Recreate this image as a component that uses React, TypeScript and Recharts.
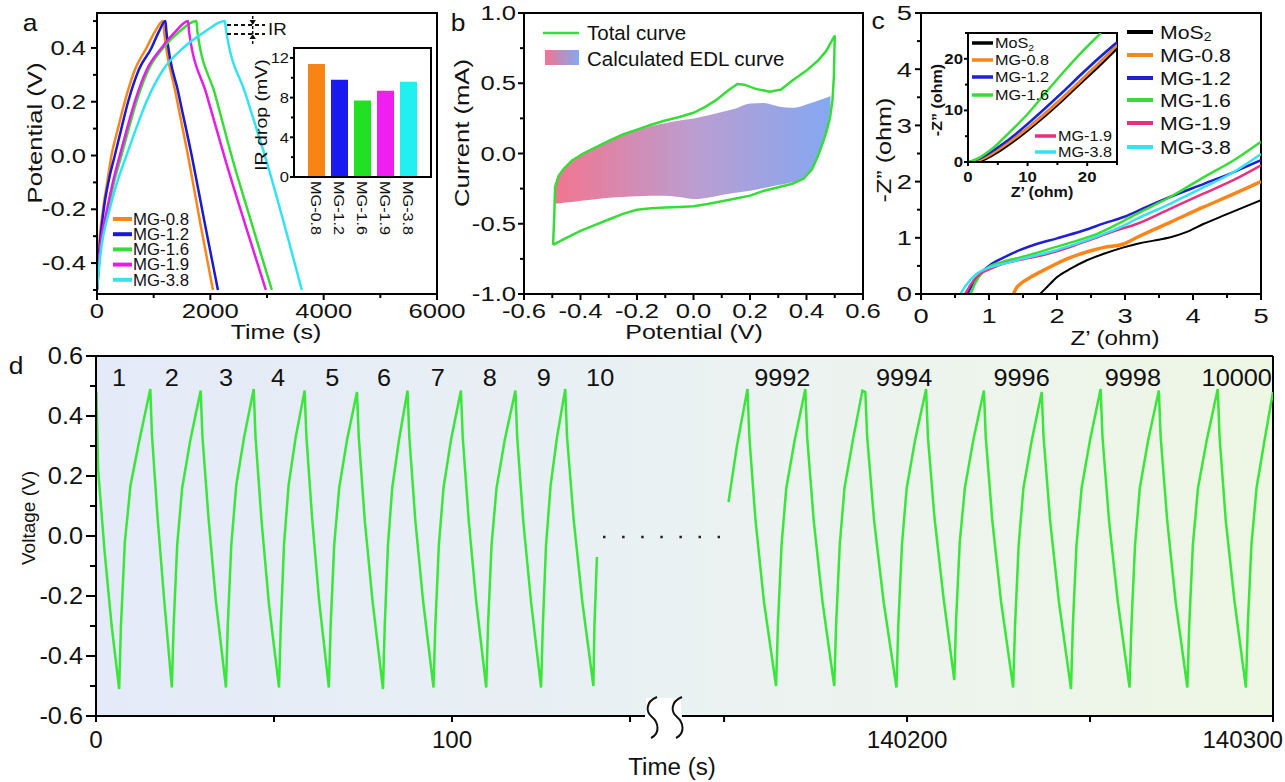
import React from "react";
import {
  LineChart,
  Line,
  XAxis,
  YAxis,
  BarChart,
  Bar,
  Cell,
  ComposedChart,
  Area,
  ReferenceArea,
  ReferenceLine,
} from "recharts";

const FONT = '"Liberation Sans", Arial, Helvetica, sans-serif';
const AX = { stroke: "#000", strokeWidth: 2 };

type Pt = [number, number];

// ---------- panel a: GCD curves ----------
const gcdNames = ["MG-0.8", "MG-1.2", "MG-1.6", "MG-1.9", "MG-3.8"];
const gcdColors = ["#f7861c", "#1a1ad0", "#38dc38", "#e41ee4", "#36e2f2"];
const gcd08: Pt[] = [
  [0, -0.5], [30, -0.36], [107, -0.2], [180, -0.1], [255, 0], [370, 0.1], [490, 0.2],
  [670, 0.32], [872, 0.4], [1020, 0.46], [1166, 0.5],
  [1185, 0.46], [1380, 0.24], [1606, 0], [1830, -0.26], [2046, -0.5],
];
const gcd12: Pt[] = [
  [0, -0.5], [35, -0.37], [119, -0.2], [210, -0.09], [314, 0], [430, 0.1], [549, 0.2],
  [740, 0.32], [961, 0.4], [1090, 0.46], [1208, 0.5],
  [1225, 0.46], [1440, 0.23], [1671, 0], [1900, -0.25], [2134, -0.5],
];
const gcd16: Pt[] = [
  [0, -0.5], [55, -0.36], [196, -0.2], [310, -0.09], [431, 0], [560, 0.1], [696, 0.2],
  [910, 0.32], [1167, 0.4], [1450, 0.46], [1755, 0.5],
  [1772, 0.46], [2080, 0.23], [2400, -0.02], [2740, -0.26], [3086, -0.5],
];
const gcd19: Pt[] = [
  [0, -0.5], [50, -0.36], [178, -0.2], [290, -0.09], [402, 0], [530, 0.1], [667, 0.2],
  [880, 0.32], [1138, 0.4], [1380, 0.46], [1608, 0.5],
  [1625, 0.46], [1930, 0.23], [2270, -0.02], [2620, -0.26], [2980, -0.5],
];
const gcd38: Pt[] = [
  [0, -0.5], [60, -0.37], [224, -0.2], [370, -0.09], [520, 0], [690, 0.1], [872, 0.2],
  [1170, 0.32], [1520, 0.4], [1900, 0.46], [2256, 0.5],
  [2275, 0.47], [2620, 0.23], [2990, -0.02], [3310, -0.26], [3615, -0.5],
];
const gcdCurves = [gcd08, gcd12, gcd16, gcd19, gcd38];

// inset a: IR drop bars
const irDrop = [11.4, 9.8, 7.7, 8.7, 9.6];
const irColors = ["#f88414", "#1a1af0", "#22e022", "#f01ef0", "#22f0f0"];

// ---------- panel b: CV ----------
const cvTotal: Pt[] = [
  [-0.497, -0.65], [-0.493, -0.45], [-0.49, -0.24], [-0.478, -0.16], [-0.46, -0.11],
  [-0.43, -0.05], [-0.39, 0.0], [-0.35, 0.04], [-0.3, 0.09], [-0.25, 0.135], [-0.2, 0.17],
  [-0.15, 0.205], [-0.1, 0.235], [-0.05, 0.26], [0.0, 0.29], [0.04, 0.33], [0.08, 0.38],
  [0.12, 0.445], [0.155, 0.495], [0.18, 0.49], [0.22, 0.46], [0.27, 0.44], [0.31, 0.455],
  [0.35, 0.52], [0.4, 0.59], [0.44, 0.66], [0.47, 0.73], [0.5, 0.84],
  [0.497, 0.55], [0.492, 0.38], [0.483, 0.25], [0.47, 0.15], [0.455, 0.06], [0.44, -0.02],
  [0.42, -0.11], [0.39, -0.18], [0.35, -0.215], [0.3, -0.24], [0.25, -0.265], [0.2, -0.3],
  [0.15, -0.32], [0.1, -0.34], [0.05, -0.36], [0.0, -0.375], [-0.05, -0.38], [-0.1, -0.385],
  [-0.15, -0.39], [-0.2, -0.4], [-0.25, -0.43], [-0.3, -0.47], [-0.35, -0.51], [-0.4, -0.55],
  [-0.45, -0.6], [-0.497, -0.65],
];
const edlX = [
  -0.49, -0.48, -0.46, -0.43, -0.39, -0.35, -0.3, -0.25, -0.2, -0.15, -0.1, -0.05, 0.0,
  0.05, 0.1, 0.15, 0.2, 0.25, 0.3, 0.35, 0.38, 0.41, 0.44, 0.46, 0.475, 0.485,
];
const edlLow = [
  -0.355, -0.355, -0.35, -0.345, -0.335, -0.325, -0.315, -0.31, -0.305, -0.3, -0.3, -0.31,
  -0.325, -0.315, -0.295, -0.28, -0.265, -0.245, -0.225, -0.205, -0.185, -0.14, -0.04,
  0.08, 0.2, 0.32,
];
const edlHigh = [
  -0.25, -0.17, -0.115, -0.055, -0.005, 0.035, 0.085, 0.13, 0.165, 0.195, 0.215, 0.235,
  0.25, 0.27, 0.295, 0.32, 0.355, 0.36, 0.335, 0.325, 0.335, 0.355, 0.375, 0.39, 0.4, 0.41,
];

// ---------- panel c: EIS ----------
const eisNames = ["MoS2", "MG-0.8", "MG-1.2", "MG-1.6", "MG-1.9", "MG-3.8"];
const eisColors = ["#000000", "#f7861c", "#2020d0", "#38dc38", "#e6317e", "#36e2f2"];
const eisWidths = [2, 3.5, 2.5, 2.5, 2.5, 2.5];
const eisMoS2: Pt[] = [
  [1.75, 0], [1.85, 0.12], [2.0, 0.3], [2.2, 0.45], [2.44, 0.6], [2.7, 0.72], [2.98, 0.83],
  [3.2, 0.9], [3.42, 0.95], [3.67, 1.01], [3.9, 1.1], [4.16, 1.25], [4.5, 1.42], [5, 1.67],
];
const eis08: Pt[] = [
  [1.36, 0], [1.4, 0.1], [1.46, 0.18], [1.6, 0.29], [1.8, 0.42], [2.2, 0.65], [2.5, 0.77],
  [2.69, 0.83], [2.98, 0.89], [3.18, 1.01], [3.67, 1.28], [4.16, 1.55], [4.6, 1.78], [5, 2.0],
];
const eis12: Pt[] = [
  [0.68, 0], [0.75, 0.15], [0.87, 0.36], [1.0, 0.5], [1.22, 0.65], [1.45, 0.78], [1.7, 0.89],
  [2.0, 0.99], [2.39, 1.13], [2.7, 1.26], [2.98, 1.37], [3.3, 1.54], [3.67, 1.73], [4.16, 1.96],
  [4.6, 2.17], [5, 2.38],
];
const eis16: Pt[] = [
  [0.73, 0], [0.8, 0.2], [0.9, 0.38], [0.97, 0.46], [1.2, 0.57], [1.46, 0.65], [1.7, 0.73],
  [1.96, 0.83], [2.3, 0.95], [2.59, 1.07], [2.9, 1.25], [3.18, 1.43], [3.67, 1.73], [4.16, 2.08],
  [4.6, 2.38], [5, 2.71],
];
const eis19: Pt[] = [
  [0.65, 0], [0.72, 0.15], [0.87, 0.36], [1.0, 0.44], [1.22, 0.54], [1.5, 0.62], [1.85, 0.71],
  [2.2, 0.84], [2.59, 1.01], [2.9, 1.14], [3.18, 1.25], [3.67, 1.52], [4.16, 1.79], [4.6, 2.03],
  [5, 2.29],
];
const eis38: Pt[] = [
  [0.58, 0], [0.66, 0.15], [0.82, 0.36], [1.0, 0.47], [1.22, 0.54], [1.5, 0.63], [1.96, 0.77],
  [2.3, 0.9], [2.69, 1.07], [2.95, 1.2], [3.18, 1.34], [3.67, 1.61], [4.16, 1.9], [4.6, 2.17],
  [5, 2.49],
];
const eisCurves = [eisMoS2, eis08, eis12, eis16, eis19, eis38];

// inset c: wide range
const wideMoS2: Pt[] = [[1.6, 0], [3, 0.6], [5, 1.9], [8, 4.3], [10, 6.1], [13, 9.0], [16, 12.1], [19, 15.4], [22, 18.6], [25, 22.0]];
const wide08: Pt[] = [[1.0, 0], [3, 0.9], [5, 2.3], [8, 4.7], [10, 6.5], [13, 9.4], [16, 12.5], [19, 15.8], [22, 19.1], [25, 22.6]];
const wide12: Pt[] = [[0.3, 0], [2, 0.7], [5, 2.8], [8, 5.4], [10, 7.4], [13, 10.5], [16, 13.7], [19, 17.0], [22, 20.2], [25, 23.2]];
const wide16: Pt[] = [[0.3, 0], [2, 0.9], [4, 2.5], [7, 5.8], [10, 9.3], [13, 13.4], [16, 17.4], [19, 21.2], [22.3, 25]];
const wide19: Pt[] = [[1.0, 0], [3, 0.9], [5, 2.4], [8, 4.8], [10, 6.6], [13, 9.5], [16, 12.6], [19, 15.9], [22, 19.2], [25, 22.7]];
const wide38: Pt[] = [[0.3, 0], [2, 0.7], [5, 2.8], [8, 5.4], [10, 7.3], [13, 10.4], [16, 13.6], [19, 16.9], [22, 20.1], [25, 23.1]];
// draw order: hidden ones first
const wideCurves = [wide19, wide38, wideMoS2, wide08, wide12, wide16];
const wideColors = ["#e6317e", "#36e2f2", "#000000", "#f7861c", "#2020d0", "#38dc38"];
const wideNames = ["MG-1.9", "MG-3.8", "MoS2", "MG-0.8", "MG-1.2", "MG-1.6"];

// ---------- panel d: cycling ----------
const cycEarly: Pt[] = [
  [0.1, 0.48], [0.6, 0.22], [2.4, -0.05], [4.4, -0.3], [6.5, -0.51],
  [7.0, -0.3], [8.1, -0.02], [9.7, 0.17], [12.2, 0.32], [15.25, 0.49],
  [15.7, 0.34], [17.3, 0.06], [19.2, -0.22], [21.3, -0.505],
  [21.8, -0.3], [22.8, -0.03], [24.2, 0.16], [26.5, 0.32], [29.4, 0.485],
  [29.9, 0.33], [31.6, 0.06], [33.7, -0.22], [36.5, -0.505],
  [37.0, -0.3], [38.0, -0.03], [39.4, 0.17], [41.6, 0.33], [44.3, 0.49],
  [44.8, 0.33], [46.5, 0.05], [48.6, -0.23], [51.4, -0.505],
  [51.9, -0.3], [52.8, -0.03], [54.1, 0.17], [56.1, 0.33], [58.6, 0.485],
  [59.1, 0.33], [60.7, 0.06], [62.7, -0.22], [65.4, -0.505],
  [65.9, -0.3], [66.9, -0.03], [68.3, 0.16], [70.5, 0.32], [73.3, 0.48],
  [73.8, 0.33], [75.5, 0.05], [77.7, -0.22], [80.6, -0.51],
  [81.1, -0.3], [82.0, -0.03], [83.2, 0.16], [85.1, 0.32], [87.5, 0.485],
  [88.0, 0.33], [89.7, 0.05], [91.9, -0.22], [94.8, -0.505],
  [95.3, -0.3], [96.3, -0.03], [97.6, 0.16], [99.7, 0.32], [102.5, 0.485],
  [103.0, 0.33], [104.7, 0.05], [106.8, -0.22], [109.6, -0.505],
  [110.1, -0.3], [111.1, -0.03], [112.5, 0.16], [114.8, 0.32], [117.8, 0.485],
  [118.3, 0.33], [120.0, 0.05], [122.2, -0.22], [125.0, -0.505],
  [125.5, -0.3], [126.4, -0.03], [127.7, 0.17], [129.5, 0.33], [131.8, 0.49],
  [132.3, 0.33], [134.2, 0.05], [136.6, -0.22], [139.7, -0.5],
  [140.0, -0.3], [140.7, -0.07],
];
const cycLate: Pt[] = [
  [140151.2, 0.113], [140153.5, 0.3], [140156.4, 0.49],
  [140156.9, 0.33], [140158.6, 0.05], [140160.9, -0.22], [140164.2, -0.5],
  [140164.7, -0.3], [140165.7, -0.03], [140167.0, 0.16], [140169.3, 0.32], [140172.2, 0.49],
  [140172.7, 0.33], [140174.5, 0.05], [140176.9, -0.22], [140180.1, -0.5],
  [140180.6, -0.3], [140181.6, -0.03], [140182.9, 0.16], [140185.2, 0.32], [140187.8, 0.485], [140188.6, 0.48],
  [140189.1, 0.33], [140191.0, 0.05], [140193.6, -0.22], [140197.1, -0.505],
  [140197.6, -0.3], [140198.6, -0.03], [140199.9, 0.16], [140202.2, 0.32], [140205.2, 0.49],
  [140205.7, 0.33], [140207.5, 0.06], [140209.9, -0.2], [140212.9, -0.48],
  [140213.4, -0.28], [140214.4, -0.02], [140215.8, 0.16], [140218.1, 0.32], [140221.0, 0.485],
  [140221.5, 0.33], [140223.3, 0.05], [140225.7, -0.22], [140229.0, -0.505],
  [140229.5, -0.3], [140230.5, -0.03], [140231.8, 0.16], [140234.1, 0.32], [140236.8, 0.48],
  [140237.3, 0.33], [140239.1, 0.05], [140241.5, -0.22], [140244.8, -0.51],
  [140245.3, -0.3], [140246.3, -0.03], [140247.7, 0.16], [140250.0, 0.32], [140252.9, 0.49],
  [140253.4, 0.33], [140255.2, 0.05], [140257.6, -0.22], [140260.8, -0.505],
  [140261.3, -0.3], [140262.3, -0.03], [140263.6, 0.16], [140265.9, 0.32], [140268.8, 0.485],
  [140269.3, 0.33], [140271.1, 0.05], [140273.4, -0.22], [140276.6, -0.505],
  [140277.1, -0.3], [140278.1, -0.03], [140279.5, 0.16], [140281.9, 0.32], [140284.9, 0.49],
  [140285.4, 0.33], [140287.1, 0.05], [140289.5, -0.22], [140292.6, -0.505],
  [140293.1, -0.3], [140294.1, -0.03], [140295.5, 0.16], [140297.7, 0.32], [140300, 0.48],
];
const earlyLabels = ["1", "2", "3", "4", "5", "6", "7", "8", "9", "10"];
const earlyLabelT = [6.5, 21.3, 36.5, 51.1, 66.4, 80.9, 96, 110.6, 125.8, 141.6];
const lateLabels = ["9992", "9994", "9996", "9998", "10000"];
const lateLabelT = [140165.9, 140199.2, 140231.3, 140261.7, 140290.1];
const labelV = 0.527;

// ---------- helpers ----------
const rows = (pts: Pt[], kx: string, ky: string) => pts.map(([a, b]) => ({ [kx]: a, [ky]: b }));

type TxtProps = {
  x: number; y: number; size?: number; anchor?: "start" | "middle" | "end";
  rot?: number; sx?: number; bold?: boolean; children: React.ReactNode;
};
function Txt({ x, y, size = 20, anchor = "middle", rot = 0, sx = 1, bold = false, children }: TxtProps) {
  return (
    <text
      transform={`translate(${x} ${y}) rotate(${rot}) scale(${sx} 1)`}
      fontFamily={FONT}
      fontSize={size}
      fontWeight={bold ? 700 : 400}
      textAnchor={anchor}
      dominantBaseline="central"
      fill="#111"
    >
      {children}
    </text>
  );
}

type TickOpt = {
  majors: number[]; len: number; minor: number; gap: number; size: number; sx: number;
  fmt: (v: number) => string; bold?: boolean; endAt?: number;
};
const isMajor = (o: TickOpt, v: number) => o.majors.some((m) => Math.abs(m - v) < 1e-9);

const leftTick = (o: TickOpt) => (p: any) => {
  const v = Number(p.payload.value);
  const mj = isMajor(o, v);
  return (
    <g key={`yt-${p.index}`}>
      <line x1={p.x - (mj ? o.len : o.minor)} x2={p.x} y1={p.y} y2={p.y} stroke="#000" strokeWidth={2} />
      {mj && (
        <Txt x={p.x - o.len - o.gap} y={p.y} size={o.size} sx={o.sx} anchor="end" bold={o.bold}>
          {o.fmt(v)}
        </Txt>
      )}
    </g>
  );
};

const bottomTick = (o: TickOpt) => (p: any) => {
  const v = Number(p.payload.value);
  const mj = isMajor(o, v);
  const last = o.endAt !== undefined && v === o.majors[o.majors.length - 1];
  return (
    <g key={`xt-${p.index}`}>
      <line x1={p.x} x2={p.x} y1={p.y} y2={p.y + (mj ? o.len : o.minor)} stroke="#000" strokeWidth={2} />
      {mj && (
        <Txt
          x={last ? (o.endAt as number) : p.x}
          y={p.y + o.len + o.gap}
          size={o.size}
          sx={o.sx}
          anchor={last ? "end" : "middle"}
          bold={o.bold}
        >
          {o.fmt(v)}
        </Txt>
      )}
    </g>
  );
};

const f1 = (v: number) => v.toFixed(1);
const f0 = (v: number) => String(v);

// ---------- panels ----------
function PanelA() {
  return (
    <div style={{ position: "absolute", left: 27, top: -3 }}>
      <LineChart width={70 + 340 + 40} height={16 + 281 + 40} margin={{ top: 16, right: 40, bottom: 0, left: 0 }}>
        <XAxis
          type="number" dataKey="t" domain={[0, 6000]} allowDataOverflow
          ticks={[0, 1000, 2000, 3000, 4000, 5000, 6000]} interval={0} height={40}
          tickSize={0} tickMargin={0} tickLine={false} axisLine={AX}
          tick={bottomTick({ majors: [0, 2000, 4000, 6000], len: 6, minor: 4, gap: 11, size: 20.5, sx: 1.25, fmt: f0 })}
        />
        <YAxis
          type="number" domain={[-0.515, 0.53]} allowDataOverflow
          ticks={[-0.5, -0.4, -0.3, -0.2, -0.1, 0, 0.1, 0.2, 0.3, 0.4, 0.5]} interval={0} width={70}
          tickSize={0} tickMargin={0} tickLine={false} axisLine={AX}
          tick={leftTick({ majors: [-0.4, -0.2, 0, 0.2, 0.4], len: 6, minor: 4, gap: 5, size: 20.5, sx: 1.25, fmt: f1 })}
        />
        <ReferenceArea x1={0} x2={6000} y1={-0.515} y2={0.53} fill="none" stroke="#000" strokeWidth={2} />
        {gcdCurves.map((c, i) => (
          <Line
            key={gcdNames[i]} data={rows(c, "t", "v")} dataKey="v" type="monotone"
            stroke={gcdColors[i]} strokeWidth={2.5} dot={false} activeDot={false} isAnimationActive={false}
          />
        ))}
      </LineChart>
    </div>
  );
}

function PanelAInset() {
  const data = gcdNames.map((n, i) => ({ name: n, ir: irDrop[i] }));
  return (
    <div style={{ position: "absolute", left: 254, top: 43 }}>
      <BarChart width={40 + 137 + 5} height={5 + 129 + 65} data={data} margin={{ top: 5, right: 5, bottom: 0, left: 0 }}>
        <XAxis
          dataKey="name" padding={{ left: 11, right: 11 }} interval={0} height={65}
          tickSize={0} tickMargin={0} tickLine={false} axisLine={AX}
          tick={(p: any) => (
            <g key={`bt-${p.index}`}>
              <Txt x={p.x} y={p.y + 4} rot={90} anchor="start" size={14.5} sx={1.12}>{p.payload.value}</Txt>
            </g>
          )}
        />
        <YAxis
          type="number" domain={[0, 13]} allowDataOverflow ticks={[0, 2, 4, 6, 8, 10, 12]} interval={0} width={40}
          tickSize={0} tickMargin={0} tickLine={false} axisLine={AX}
          tick={leftTick({ majors: [0, 4, 8, 12], len: 4, minor: 3, gap: 1, size: 15, sx: 1.1, fmt: f0 })}
        />
        <Bar dataKey="ir" barSize={17} isAnimationActive={false}>
          {data.map((d, i) => (
            <Cell key={d.name} fill={irColors[i]} />
          ))}
        </Bar>
      </BarChart>
    </div>
  );
}

function PanelB() {
  const data = edlX.map((x, i) => ({ x, r: [edlLow[i], edlHigh[i]] }));
  return (
    <div style={{ position: "absolute", left: 454, top: -3 }}>
      <ComposedChart width={70 + 339 + 30} height={16 + 281 + 40} data={data} margin={{ top: 16, right: 30, bottom: 0, left: 0 }}>
        <defs>
          <linearGradient id="edlGrad" x1="0" y1="0" x2="1" y2="0">
            <stop offset="0" stopColor="#f2758f" />
            <stop offset="0.5" stopColor="#bc9dd0" />
            <stop offset="1" stopColor="#84a8f2" />
          </linearGradient>
        </defs>
        <XAxis
          type="number" dataKey="x" domain={[-0.6, 0.6]} allowDataOverflow
          ticks={[-0.6, -0.5, -0.4, -0.3, -0.2, -0.1, 0, 0.1, 0.2, 0.3, 0.4, 0.5, 0.6]} interval={0} height={40}
          tickSize={0} tickMargin={0} tickLine={false} axisLine={AX}
          tick={bottomTick({ majors: [-0.6, -0.4, -0.2, 0, 0.2, 0.4, 0.6], len: 6, minor: 4, gap: 11, size: 20.5, sx: 1.25, fmt: f1 })}
        />
        <YAxis
          type="number" domain={[-1, 1]} allowDataOverflow
          ticks={[-1, -0.75, -0.5, -0.25, 0, 0.25, 0.5, 0.75, 1]} interval={0} width={70}
          tickSize={0} tickMargin={0} tickLine={false} axisLine={AX}
          tick={leftTick({ majors: [-1, -0.5, 0, 0.5, 1], len: 6, minor: 4, gap: 2, size: 20.5, sx: 1.25, fmt: f1 })}
        />
        <ReferenceArea x1={-0.6} x2={0.6} y1={-1} y2={1} fill="none" stroke="#000" strokeWidth={2} />
        <Area dataKey="r" type="monotone" stroke="none" fill="url(#edlGrad)" fillOpacity={1} isAnimationActive={false} activeDot={false} />
        <Line
          data={rows(cvTotal, "x", "y")} dataKey="y" type="linear" stroke="#38dc38" strokeWidth={2.5}
          dot={false} activeDot={false} isAnimationActive={false}
        />
      </ComposedChart>
    </div>
  );
}

function PanelC() {
  const tk = [0, 0.5, 1, 1.5, 2, 2.5, 3, 3.5, 4, 4.5, 5];
  return (
    <div style={{ position: "absolute", left: 876, top: -3 }}>
      <LineChart width={45 + 340 + 16} height={16 + 281 + 40} margin={{ top: 16, right: 16, bottom: 0, left: 0 }}>
        <XAxis
          type="number" dataKey="x" domain={[0, 5]} allowDataOverflow ticks={tk} interval={0} height={40}
          tickSize={0} tickMargin={0} tickLine={false} axisLine={AX}
          tick={bottomTick({ majors: [0, 1, 2, 3, 4, 5], len: 6, minor: 4, gap: 16, size: 21, sx: 1.3, fmt: f0 })}
        />
        <YAxis
          type="number" domain={[0, 5]} allowDataOverflow ticks={tk} interval={0} width={45}
          tickSize={0} tickMargin={0} tickLine={false} axisLine={AX}
          tick={leftTick({ majors: [0, 1, 2, 3, 4, 5], len: 6, minor: 4, gap: 3, size: 21, sx: 1.3, fmt: f0 })}
        />
        <ReferenceArea x1={0} x2={5} y1={0} y2={5} fill="none" stroke="#000" strokeWidth={2} />
        {eisCurves.map((c, i) => (
          <Line
            key={eisNames[i]} data={rows(c, "x", "y")} dataKey="y" type="monotone"
            stroke={eisColors[i]} strokeWidth={eisWidths[i]} dot={false} activeDot={false} isAnimationActive={false}
          />
        ))}
      </LineChart>
    </div>
  );
}

function PanelCInset() {
  const tk = [0, 5, 10, 15, 20, 25];
  return (
    <div style={{ position: "absolute", left: 938, top: 23 }}>
      <LineChart width={30 + 149 + 5} height={10 + 129 + 26} margin={{ top: 10, right: 5, bottom: 0, left: 0 }}>
        <XAxis
          type="number" dataKey="x" domain={[0, 25]} allowDataOverflow ticks={tk} interval={0} height={26}
          tickSize={0} tickMargin={0} tickLine={false} axisLine={AX}
          tick={bottomTick({ majors: [0, 10, 20], len: 4, minor: 3, gap: 11, size: 14, sx: 1.2, bold: true, fmt: f0 })}
        />
        <YAxis
          type="number" domain={[0, 25]} allowDataOverflow ticks={tk} interval={0} width={30}
          tickSize={0} tickMargin={0} tickLine={false} axisLine={AX}
          tick={leftTick({ majors: [0, 10, 20], len: 4, minor: 3, gap: 1, size: 14, sx: 1.2, bold: true, fmt: f0 })}
        />
        <ReferenceArea x1={0} x2={25} y1={0} y2={25} fill="#fff" fillOpacity={1} stroke="#000" strokeWidth={2} />
        {wideCurves.map((c, i) => (
          <Line
            key={wideNames[i]} data={rows(c, "x", "y")} dataKey="y" type="monotone"
            stroke={wideColors[i]} strokeWidth={2.5} dot={false} activeDot={false} isAnimationActive={false}
          />
        ))}
      </LineChart>
    </div>
  );
}

const labelDot = (p: any) => (
  <g key={`lab-${p.index}`}>
    <Txt x={p.cx} y={p.cy} size={23} sx={1.1}>{p.payload.label}</Txt>
  </g>
);

function PanelD() {
  const yTicks = [-0.6, -0.5, -0.4, -0.3, -0.2, -0.1, 0, 0.1, 0.2, 0.3, 0.4, 0.5, 0.6];
  const early = earlyLabels.map((l, i) => ({ t: earlyLabelT[i], v: labelV, label: l }));
  const late = lateLabels.map((l, i) => ({ t: lateLabelT[i], v: labelV, label: l }));
  return (
    <>
      <div
        style={{
          position: "absolute", left: 96, top: 356, width: 1177, height: 360,
          background: "linear-gradient(to right, #e4eaf8 0%, #e9f0f4 40%, #edf4ee 70%, #eef6e4 100%)",
        }}
      />
      <div style={{ position: "absolute", left: 26, top: 340 }}>
        <LineChart width={70 + 549} height={16 + 360 + 45} margin={{ top: 16, right: 0, bottom: 0, left: 0 }}>
          <XAxis
            type="number" dataKey="t" domain={[0, 154.2]} allowDataOverflow ticks={[0, 50, 100, 150]} interval={0} height={45}
            tickSize={0} tickMargin={0} tickLine={false} axisLine={AX}
            tick={bottomTick({ majors: [0, 100], len: 6, minor: 6, gap: 18, size: 23, sx: 1.05, fmt: f0 })}
          />
          <YAxis
            type="number" domain={[-0.6, 0.6]} allowDataOverflow ticks={yTicks} interval={0} width={70}
            tickSize={0} tickMargin={0} tickLine={false} axisLine={AX}
            tick={leftTick({ majors: [-0.6, -0.4, -0.2, 0, 0.2, 0.4, 0.6], len: 10, minor: 6, gap: 3, size: 23, sx: 1.1, fmt: f1 })}
          />
          <ReferenceLine y={0.6} stroke="#000" strokeWidth={2} />
          <Line
            data={rows(cycEarly, "t", "v")} dataKey="v" type="linear" stroke="#3ae63a" strokeWidth={2.5}
            dot={false} activeDot={false} isAnimationActive={false}
          />
          <Line data={early} dataKey="v" stroke="none" dot={labelDot} activeDot={false} isAnimationActive={false} />
        </LineChart>
      </div>
      <div style={{ position: "absolute", left: 682, top: 340 }}>
        <LineChart width={591 + 12} height={16 + 360 + 45} margin={{ top: 16, right: 12, bottom: 0, left: 0 }}>
          <XAxis
            type="number" dataKey="t" domain={[140138.5, 140300]} allowDataOverflow
            ticks={[140150, 140200, 140250, 140300]} interval={0} height={45}
            tickSize={0} tickMargin={0} tickLine={false} axisLine={AX}
            tick={bottomTick({ majors: [140200, 140300], len: 6, minor: 6, gap: 18, size: 23, sx: 1.05, fmt: f0, endAt: 601 })}
          />
          <YAxis hide type="number" domain={[-0.6, 0.6]} allowDataOverflow />
          <ReferenceLine y={0.6} stroke="#000" strokeWidth={2} />
          <ReferenceLine x={140300} stroke="#000" strokeWidth={2} />
          <Line
            data={rows(cycLate, "t", "v")} dataKey="v" type="linear" stroke="#3ae63a" strokeWidth={2.5}
            dot={false} activeDot={false} isAnimationActive={false}
          />
          <Line data={late} dataKey="v" stroke="none" dot={labelDot} activeDot={false} isAnimationActive={false} />
        </LineChart>
      </div>
    </>
  );
}

function MoS2Label({ x, y, size, sx }: { x: number; y: number; size: number; sx: number }) {
  return (
    <text
      transform={`translate(${x} ${y}) scale(${sx} 1)`}
      fontFamily={FONT} fontSize={size} textAnchor="start" dominantBaseline="central" fill="#111"
    >
      MoS<tspan fontSize={size * 0.65} dy={size * 0.25}>2</tspan>
    </text>
  );
}

function Overlay() {
  const cLegendY = [32, 55, 78, 100, 123, 147];
  // inset legend entries, indices into wideNames / wideColors
  const insetLegend = [
    { i: 2, x: 972, y: 43 }, { i: 3, x: 972, y: 60 }, { i: 4, x: 972, y: 77 }, { i: 5, x: 972, y: 95 },
    { i: 0, x: 1035, y: 136 }, { i: 1, x: 1035, y: 152 },
  ];
  return (
    <svg width={1285} height={782} style={{ position: "absolute", left: 0, top: 0, pointerEvents: "none" }}>
      <defs>
        <linearGradient id="legGrad" x1="0" y1="0" x2="1" y2="0">
          <stop offset="0" stopColor="#f2758f" />
          <stop offset="1" stopColor="#84a8f2" />
        </linearGradient>
      </defs>

      {/* panel letters */}
      <Txt x={30} y={22} size={24} sx={1.1}>a</Txt>
      <Txt x={458} y={22} size={24} sx={1.1}>b</Txt>
      <Txt x={878} y={20} size={24} sx={1.1}>c</Txt>
      <Txt x={16} y={365} size={24} sx={1.1}>d</Txt>

      {/* panel a */}
      <Txt x={35} y={133} rot={-90} size={20.5} sx={1.25}>Potential (V)</Txt>
      <Txt x={276} y={332} size={20.5} sx={1.22}>Time (s)</Txt>
      {gcdNames.map((n, i) => (
        <g key={n}>
          <line x1={113} x2={132} y1={219 + i * 15.2} y2={219 + i * 15.2} stroke={gcdColors[i]} strokeWidth={4} />
          <Txt x={133} y={219 + i * 15.2} size={16} sx={1.05} anchor="start">{n}</Txt>
        </g>
      ))}
      <line x1={227} x2={265} y1={25} y2={25} stroke="#111" strokeWidth={1.8} strokeDasharray="4 3" />
      <line x1={227} x2={265} y1={34} y2={34} stroke="#111" strokeWidth={1.8} strokeDasharray="4 3" />
      <line x1={252.7} x2={252.7} y1={16} y2={44} stroke="#111" strokeWidth={1.5} strokeDasharray="3 2" />
      <path d="M249.5 20 L255.9 20 L252.7 25 Z" fill="#111" />
      <path d="M249.5 39 L255.9 39 L252.7 34 Z" fill="#111" />
      <Txt x={268} y={29.5} size={17} sx={1.1} anchor="start">IR</Txt>
      <rect x={294} y={48} width={137} height={129} fill="none" stroke="#000" strokeWidth={2} />
      <Txt x={262} y={115} rot={-90} size={16} sx={1.22}>IR drop (mV)</Txt>

      {/* panel b */}
      <Txt x={462} y={133} rot={-90} size={20.5} sx={1.25}>Current (mA)</Txt>
      <Txt x={694} y={332} size={20.5} sx={1.22}>Potential (V)</Txt>
      <line x1={543} x2={579} y1={33} y2={33} stroke="#38dc38" strokeWidth={2.5} />
      <Txt x={587} y={32} size={20.5} anchor="start">Total curve</Txt>
      <rect x={545} y={50} width={34} height={15} fill="url(#legGrad)" />
      <Txt x={587} y={58} size={20.5} anchor="start">Calculated EDL curve</Txt>

      {/* panel c */}
      <Txt x={884} y={150} rot={-90} size={21} sx={1.2}>-Z” (ohm)</Txt>
      <Txt x={1115} y={338} size={21} sx={1.15}>Z’ (ohm)</Txt>
      {eisNames.map((n, i) => (
        <g key={n}>
          <line x1={1127} x2={1153} y1={cLegendY[i]} y2={cLegendY[i]} stroke={eisColors[i]} strokeWidth={4} />
          {n === "MoS2" ? (
            <MoS2Label x={1160} y={cLegendY[i]} size={19} sx={1.12} />
          ) : (
            <Txt x={1160} y={cLegendY[i]} size={19} sx={1.12} anchor="start">{n}</Txt>
          )}
        </g>
      ))}
      <Txt x={937} y={100} rot={-90} size={14} sx={1.15} bold>-Z” (ohm)</Txt>
      <Txt x={1042} y={192} size={14} sx={1.15} bold>Z’ (ohm)</Txt>
      {insetLegend.map(({ i, x, y }) => (
        <g key={wideNames[i]}>
          <line x1={x} x2={x + 21} y1={y} y2={y} stroke={wideColors[i]} strokeWidth={3.5} />
          {wideNames[i] === "MoS2" ? (
            <MoS2Label x={x + 23} y={y} size={15} sx={1.08} />
          ) : (
            <Txt x={x + 23} y={y} size={15} sx={1.08} anchor="start">{wideNames[i]}</Txt>
          )}
        </g>
      ))}

      {/* panel d */}
      <Txt x={28} y={518} rot={-90} size={19}>Voltage (V)</Txt>
      <Txt x={672} y={767} size={23} sx={1.05}>Time (s)</Txt>
      <line x1={640} x2={690} y1={356} y2={356} stroke="#000" strokeWidth={2} />
      <line x1={603} x2={720} y1={537} y2={537} stroke="#222" strokeWidth={2.5} strokeDasharray="2.5 16.6" />
      <rect x={646} y={698} width={35} height={18} fill="#fff" />
      <path d="M657 697 C645 702 646 712 652 717 S661 733 651 738" fill="none" stroke="#111" strokeWidth={2} />
      <path d="M682 697 C670 702 671 712 677 717 S686 733 676 738" fill="none" stroke="#111" strokeWidth={2} />
    </svg>
  );
}

export default function App() {
  return (
    <div style={{ position: "absolute", left: 0, top: 0, width: 1285, height: 782, background: "#fff", overflow: "hidden" }}>
      <PanelA />
      <PanelAInset />
      <PanelB />
      <PanelC />
      <PanelCInset />
      <PanelD />
      <Overlay />
    </div>
  );
}
